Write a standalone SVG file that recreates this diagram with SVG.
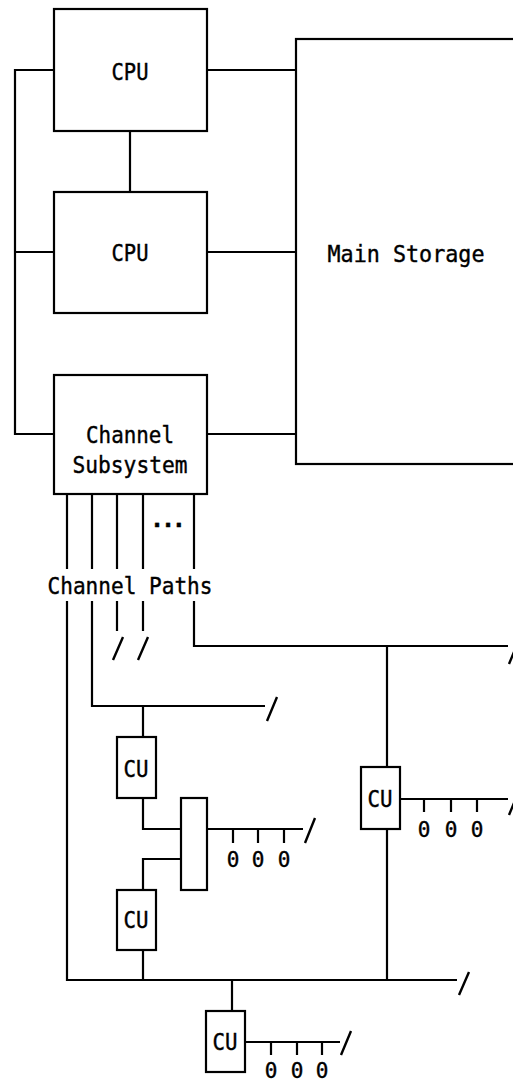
<svg xmlns="http://www.w3.org/2000/svg" width="513" height="1082" viewBox="0 0 513 1082">
<style>
.box{fill:#fff;stroke:#000;stroke-width:2.2}
.ln{fill:none;stroke:#000;stroke-width:2.2}
.sl{fill:none;stroke:#000;stroke-width:2.4}
.t{font-family:"DejaVu Sans Mono","Liberation Mono",monospace;font-size:23.5px;fill:#000;stroke:#000;stroke-width:0.4;text-anchor:middle}
.z{font-family:"DejaVu Sans Mono","Liberation Mono",monospace;font-size:21px;fill:#000;stroke:#000;stroke-width:0.4;text-anchor:middle}
</style>
<rect width="513" height="1082" fill="#fff"/>
<g id="connectors">
<path class="ln" d="M54 70H15V434H54M15 252H54"/>
<path class="ln" d="M130 131V192"/>
<path class="ln" d="M207 70H296M207 252H296M207 434H296"/>
<path class="ln" d="M67 494V569M92 494V569M117 494V569M143 494V569M194 494V569"/>
<path class="ln" d="M67 601V980H457"/>
<path class="ln" d="M92 601V706H265"/>
<path class="ln" d="M117 601V631M143 601V631"/>
<path class="ln" d="M194 601V646H508"/>
<path class="ln" d="M143 706V737"/>
<path class="ln" d="M143 798V829H181"/>
<path class="ln" d="M181 859H143V890"/>
<path class="ln" d="M143 950V980"/>
<path class="ln" d="M387 646V767M387 829V980"/>
<path class="ln" d="M232 980V1011"/>
<path class="ln" d="M207 829H303M233 829V843M258 829V843M284 829V843"/>
<path class="ln" d="M400 799H508M424 799V812M451 799V812M477 799V812"/>
<path class="ln" d="M245 1042H340M271 1042V1055M297 1042V1055M322 1042V1055"/>
<path class="sl" d="M113 660L123 637M138 660L148 637M267 721L277 697M305 843L315 818M459 995L469 972M341 1055L351 1031M509 664L519 640M509 815L519 791"/>
</g>
<g id="cpu1"><rect class="box" x="54" y="9" width="153" height="122"/><text class="t" x="130" y="80" textLength="37" lengthAdjust="spacingAndGlyphs">CPU</text></g>
<g id="cpu2"><rect class="box" x="54" y="192" width="153" height="121"/><text class="t" x="130" y="261" textLength="37" lengthAdjust="spacingAndGlyphs">CPU</text></g>
<g id="main-storage"><rect class="box" x="296" y="39" width="240" height="425"/><text class="t" x="406" y="262" textLength="157" lengthAdjust="spacingAndGlyphs">Main Storage</text></g>
<g id="channel-subsystem"><rect class="box" x="54" y="375" width="153" height="119"/><text class="t" x="130" y="443" textLength="88" lengthAdjust="spacingAndGlyphs">Channel</text><text class="t" x="130" y="473" textLength="115" lengthAdjust="spacingAndGlyphs">Subsystem</text><text class="t" x="168" y="527" font-weight="bold" textLength="36" lengthAdjust="spacing">...</text></g>
<g id="channel-paths-label"><text class="t" x="130" y="594" textLength="165" lengthAdjust="spacingAndGlyphs">Channel Paths</text></g>
<g id="cu1"><rect class="box" x="117" y="737" width="39" height="61"/><text class="t" x="136" y="777" textLength="25" lengthAdjust="spacingAndGlyphs">CU</text></g>
<g id="switch"><rect class="box" x="181" y="798" width="26" height="92"/></g>
<g id="devices1"><text class="z" x="233" y="867">0</text><text class="z" x="258" y="867">0</text><text class="z" x="284" y="867">0</text></g>
<g id="cu2"><rect class="box" x="117" y="890" width="39" height="60"/><text class="t" x="136" y="928" textLength="25" lengthAdjust="spacingAndGlyphs">CU</text></g>
<g id="cu3"><rect class="box" x="361" y="767" width="39" height="62"/><text class="t" x="380" y="807" textLength="25" lengthAdjust="spacingAndGlyphs">CU</text></g>
<g id="devices3"><text class="z" x="424" y="837">0</text><text class="z" x="451" y="837">0</text><text class="z" x="477" y="837">0</text></g>
<g id="cu4"><rect class="box" x="206" y="1011" width="39" height="61"/><text class="t" x="225" y="1050" textLength="25" lengthAdjust="spacingAndGlyphs">CU</text></g>
<g id="devices4"><text class="z" x="271" y="1078">0</text><text class="z" x="297" y="1078">0</text><text class="z" x="322" y="1078">0</text></g>
</svg>
